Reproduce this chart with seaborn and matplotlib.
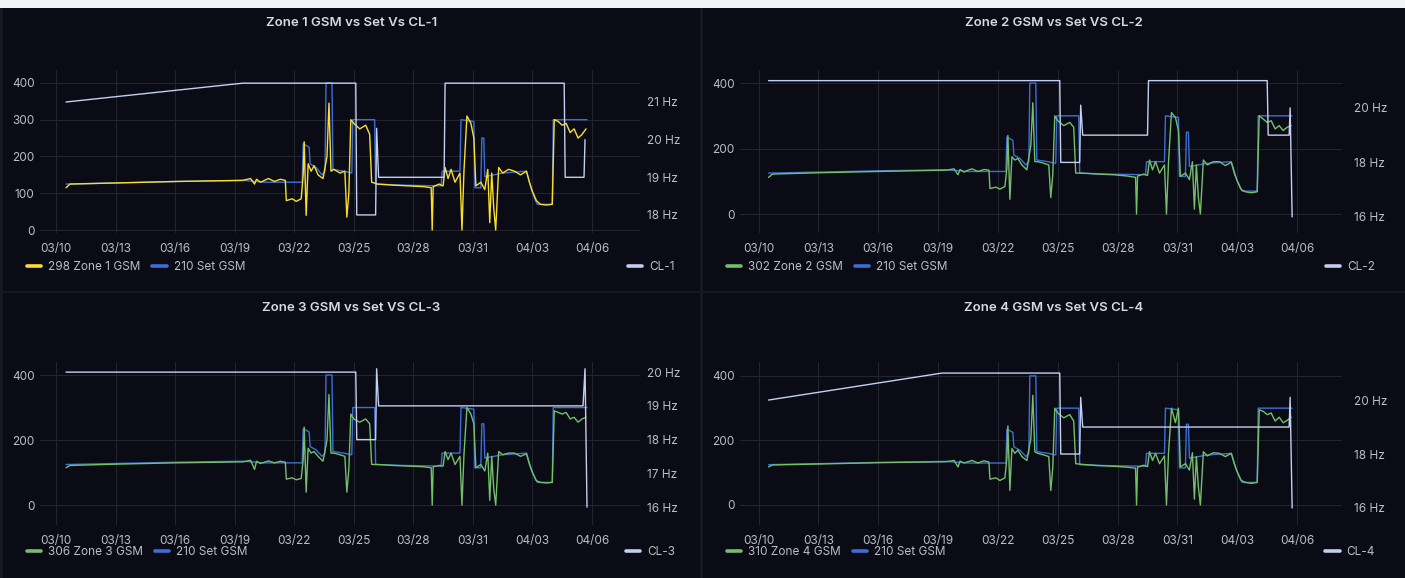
import numpy as np
import pandas as pd
import seaborn as sns
import matplotlib.pyplot as plt
import matplotlib.dates as mdates
from matplotlib.lines import Line2D
from matplotlib.patches import Rectangle

# ---- data (days after 03/10) ----
zone_days = [0.5, 0.7, 3.0, 6.0, 9.4, 9.8, 10.0, 10.1, 10.3, 10.5,
             10.7, 11.0, 11.3, 11.55, 11.6, 11.9, 12.1, 12.35, 12.45, 12.5,
             12.6, 12.7, 12.85, 13.0, 13.2, 13.45, 13.65, 13.75, 13.85, 14.0,
             14.3, 14.55, 14.65, 14.75, 14.85, 15.0, 15.3, 15.6, 15.8, 15.9,
             16.2, 17.0, 17.8, 18.5, 18.9, 18.95, 19.0, 19.3, 19.5, 19.6,
             19.75, 19.9, 20.1, 20.35, 20.45, 20.55, 20.7, 20.9, 21.05, 21.15,
             21.4, 21.6, 21.75, 21.85, 21.95, 22.05, 22.15, 22.3, 22.5, 22.8,
             23.1, 23.4, 23.7, 23.85, 24.0, 24.2, 24.4, 24.7, 25.0, 25.1,
             25.3, 25.5, 25.7, 25.9, 26.1, 26.3, 26.5, 26.7]

zone1_gsm = [115, 125, 128, 132, 135, 140, 125, 138, 130, 135,
             140, 132, 138, 135, 80, 85, 78, 85, 150, 240,
             40, 180, 160, 175, 150, 140, 200, 345, 160, 165,
             155, 160, 35, 100, 300, 290, 275, 285, 260, 130,
             125, 122, 120, 118, 115, 0, 118, 125, 120, 170,
             140, 165, 130, 155, 0, 160, 310, 290, 250, 120,
             130, 110, 165, 20, 155, 60, 0, 170, 155, 165,
             160, 150, 160, 130, 105, 80, 70, 68, 70, 300,
             295, 285, 290, 265, 275, 250, 260, 275]

zone2_gsm = [112, 122, 126, 130, 134, 138, 120, 136, 128, 134,
             138, 130, 136, 134, 78, 82, 76, 84, 140, 240,
             45, 175, 165, 170, 150, 135, 210, 340, 160, 160,
             155, 150, 50, 120, 300, 285, 270, 280, 265, 125,
             125, 122, 120, 116, 112, 0, 116, 122, 118, 165,
             135, 160, 125, 150, 0, 155, 310, 295, 255, 115,
             125, 105, 160, 15, 150, 50, 0, 165, 150, 160,
             160, 148, 158, 125, 100, 75, 68, 65, 68, 300,
             290, 280, 285, 260, 270, 255, 265, 270]

zone3_gsm = [115, 122, 126, 130, 133, 138, 110, 135, 128, 132,
             136, 130, 135, 132, 80, 84, 78, 82, 140, 240,
             40, 175, 160, 165, 150, 135, 200, 340, 160, 160,
             155, 150, 40, 110, 280, 265, 255, 265, 250, 125,
             125, 122, 120, 118, 115, 0, 118, 122, 120, 165,
             140, 160, 125, 150, 0, 155, 300, 280, 250, 115,
             125, 105, 160, 15, 150, 50, 0, 165, 155, 160,
             160, 150, 158, 125, 100, 75, 70, 68, 70, 290,
             285, 280, 285, 265, 270, 255, 265, 270]

zone4_gsm = [118, 124, 127, 131, 134, 138, 118, 136, 130, 134,
             138, 130, 137, 133, 80, 84, 76, 84, 145, 245,
             45, 175, 160, 170, 150, 138, 205, 340, 165, 160,
             155, 150, 45, 115, 300, 285, 270, 280, 260, 128,
             126, 122, 120, 117, 114, 0, 117, 123, 119, 165,
             138, 160, 128, 152, 0, 158, 300, 255, 300, 118,
             128, 108, 162, 18, 150, 55, 0, 165, 152, 162,
             160, 150, 160, 128, 102, 76, 70, 67, 70, 295,
             290, 280, 285, 260, 272, 255, 262, 272]

set_days = [0.5, 3.0, 6.0, 9.4, 10.5, 12.4, 12.45, 12.75, 12.8, 13.1,
            13.4, 13.55, 13.6, 13.9, 13.95, 14.5, 14.9, 14.95, 16.05, 16.1,
            17.5, 19.4, 19.45, 20.35, 20.4, 21.05, 21.1, 21.4, 21.45, 21.55,
            21.6, 22.5, 23.7, 23.8, 23.95, 24.15, 24.25, 25.0, 25.05, 26.2,
            26.75]
set_gsm = [125, 128, 132, 135, 130, 130, 235, 225, 180, 170,
           150, 160, 400, 400, 165, 160, 155, 300, 300, 125,
           122, 120, 160, 160, 300, 295, 115, 115, 250, 250,
           145, 155, 160, 140, 110, 80, 70, 70, 300, 300,
           300]

cl1_days = [0.5, 9.4, 15.1, 15.15, 16.1, 16.15, 16.25, 19.55, 19.6, 25.6, 25.65, 26.6, 26.65]
cl1_hz = [21.0, 21.5, 21.5, 18.0, 18.0, 20.3, 19.0, 19.0, 21.5, 21.5, 19.0, 19.0, 20.0]

cl2_days = [0.5, 15.1, 15.15, 16.1, 16.15, 16.25, 19.5, 19.55, 25.5, 25.55, 26.6, 26.65, 26.75]
cl2_hz = [21.0, 21.0, 18.0, 18.0, 20.1, 19.0, 19.0, 21.0, 21.0, 19.0, 19.0, 20.0, 16.0]

cl3_days = [0.5, 15.1, 15.15, 16.1, 16.15, 16.25, 26.55, 26.65, 26.75]
cl3_hz = [20.0, 20.0, 18.0, 18.0, 20.1, 19.0, 19.0, 20.1, 16.0]

cl4_days = [0.5, 9.2, 15.1, 15.15, 16.1, 16.15, 16.25, 26.6, 26.65, 26.75]
cl4_hz = [20.0, 21.0, 21.0, 18.0, 18.0, 20.1, 19.0, 19.0, 20.1, 16.0]

titles = ['Zone 1 GSM vs Set Vs CL-1', 'Zone 2 GSM vs Set VS CL-2',
          'Zone 3 GSM vs Set VS CL-3', 'Zone 4 GSM vs Set VS CL-4']
zone_labels = ['298 Zone 1 GSM', '302 Zone 2 GSM', '306 Zone 3 GSM', '310 Zone 4 GSM']
set_label = '210 Set GSM'
cl_labels = ['CL-1', 'CL-2', 'CL-3', 'CL-4']

START = pd.Timestamp('2024-03-10')


def to_time(days):
    return START + pd.to_timedelta(np.asarray(days), unit='D')


# ---- style ----
sns.set_theme(style='dark')
plt.rcParams['font.family'] = ['Inter', 'DejaVu Sans']

BG = '#0a0b15'
TXT = '#b9bdc6'
GRID = '#24262f'
YELLOW = '#fade2a'
GREEN = '#73bf69'
BLUE = '#3b6fd6'
CLC = '#c3cff0'

W, H = 1405, 578
fig = plt.figure(figsize=(W / 100, H / 100), dpi=100, facecolor='#17191f')
fig.patches.append(Rectangle((0, 1 - 8 / H), 1, 8 / H, transform=fig.transFigure,
                             facecolor='#f3f4f6', edgecolor='none', zorder=-5))

panels = [
    dict(box=(3, 8, 700, 291), plot=(40, 70, 640, 233), zone=zone1_gsm, color=YELLOW,
         cl=(cl1_days, cl1_hz), ylim=(-8, 435), rylim=(17.52, 21.85),
         lticks=[0, 100, 200, 300, 400], rticks=[18, 19, 20, 21], rpad=5, xlim=(-0.81, 29.42)),
    dict(box=(703, 8, 1405, 291), plot=(740, 70, 1342, 233), zone=zone2_gsm, color=GREEN,
         cl=(cl2_days, cl2_hz), ylim=(-58, 440), rylim=(15.41, 21.39),
         lticks=[0, 200, 400], rticks=[16, 18, 20], rpad=9, xlim=(-0.93, 29.25)),
    dict(box=(3, 293, 700, 578), plot=(40, 362, 640, 525), zone=zone3_gsm, color=GREEN,
         cl=(cl3_days, cl3_hz), ylim=(-61, 440), rylim=(15.47, 20.30),
         lticks=[0, 200, 400], rticks=[16, 17, 18, 19, 20], rpad=5, xlim=(-0.81, 29.42)),
    dict(box=(703, 293, 1405, 578), plot=(740, 362, 1342, 525), zone=zone4_gsm, color=GREEN,
         cl=(cl4_days, cl4_hz), ylim=(-62, 443), rylim=(15.37, 21.41),
         lticks=[0, 200, 400], rticks=[16, 18, 20], rpad=9, xlim=(-0.93, 29.25)),
]

tick_times = pd.date_range(START, periods=10, freq='3D')

for i, p in enumerate(panels):
    bx0, by0, bx1, by1 = p['box']
    fig.patches.append(Rectangle((bx0 / W, 1 - by1 / H), (bx1 - bx0) / W, (by1 - by0) / H,
                                 transform=fig.transFigure, facecolor=BG,
                                 edgecolor='none', zorder=-4))
    fig.text((bx0 + bx1) / 2 / W, 1 - (by0 + 15) / H, titles[i], color='#d8d9dc',
             fontsize=9.5, fontweight='semibold', ha='center', va='center')

    x0, y0, x1, y1 = p['plot']
    ax = fig.add_axes([x0 / W, 1 - y1 / H, (x1 - x0) / W, (y1 - y0) / H])
    ax.set_facecolor('none')

    # set point under the zone reading, as in the dashboard
    sns.lineplot(x=to_time(set_days), y=set_gsm, ax=ax, color=BLUE, lw=1.0,
                 estimator=None, sort=False, legend=False)
    sns.lineplot(x=to_time(zone_days), y=p['zone'], ax=ax, color=p['color'], lw=1.0,
                 estimator=None, sort=False, legend=False)

    ax.set_ylim(*p['ylim'])
    ax.set_yticks(p['lticks'])
    ax.set_xlim(to_time([p['xlim'][0]])[0], to_time([p['xlim'][1]])[0])
    ax.set_xticks(tick_times)
    ax.xaxis.set_major_formatter(mdates.DateFormatter('%m/%d'))
    ax.grid(True, color=GRID, lw=0.7)
    ax.tick_params(colors=TXT, labelsize=8.5, length=0)
    ax.tick_params(axis='x', pad=7)
    ax.tick_params(axis='y', pad=4)
    ax.set_xlabel('')
    ax.set_ylabel('')
    for s in ax.spines.values():
        s.set_visible(False)

    ax2 = ax.twinx()
    cd, ch = p['cl']
    sns.lineplot(x=to_time(cd), y=ch, ax=ax2, color=CLC, lw=1.0,
                 estimator=None, sort=False, legend=False)
    ax2.set_ylim(*p['rylim'])
    ax2.set_yticks(p['rticks'])
    ax2.set_yticklabels([f'{t} Hz' for t in p['rticks']])
    ax2.grid(False)
    ax2.tick_params(colors=TXT, labelsize=8.5, length=0, pad=p['rpad'])
    ax2.set_ylabel('')
    for s in ax2.spines.values():
        s.set_visible(False)

    leg_y = 1 - (by0 + 259) / H
    handles = [Line2D([], [], color=p['color'], lw=2.6), Line2D([], [], color=BLUE, lw=2.6)]
    leg = fig.legend(handles, [zone_labels[i], set_label], loc='center left',
                     bbox_to_anchor=((bx0 + 24) / W, leg_y), ncol=2, frameon=False,
                     fontsize=8.5, handlelength=1.2, handletextpad=0.6,
                     columnspacing=1.0, borderpad=0, borderaxespad=0)
    for t in leg.get_texts():
        t.set_color(TXT)
    leg2 = fig.legend([Line2D([], [], color=CLC, lw=2.6)], [cl_labels[i]], loc='center right',
                      bbox_to_anchor=((bx0 + 672) / W, leg_y), frameon=False,
                      fontsize=8.5, handlelength=1.2, handletextpad=0.6,
                      borderpad=0, borderaxespad=0)
    for t in leg2.get_texts():
        t.set_color(TXT)

fig.savefig('out.png', dpi=100, facecolor=fig.get_facecolor())
